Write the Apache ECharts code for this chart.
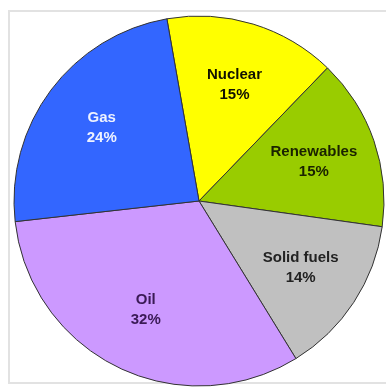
<!DOCTYPE html>
<html><head><meta charset="utf-8">
<script src="https://cdn.jsdelivr.net/npm/echarts@6/dist/echarts.min.js"></script>
<style>html,body{margin:0;padding:0;background:#fff}#c{width:386px;height:387px}</style>
</head><body><div id="c"></div>
<script>
const categories = ['Nuclear', 'Renewables', 'Solid fuels', 'Oil', 'Gas'];
const shares = [15, 15, 14, 32, 24];
const sliceColors = ['#ffff00', '#99cc00', '#c0c0c0', '#cc99ff', '#3366ff'];
const labelColors = ['#111100', '#1a2200', '#222222', '#3a1a55', '#eef2ff'];

const chart = echarts.init(document.getElementById('c'), null, {renderer: 'canvas'});
const center = [199, 201];
const R = 185;
const sliceData = categories.map((n, i) => ({name: n, value: shares[i], itemStyle: {color: sliceColors[i]}}));
const labelData = categories.map((n, i) => ({name: n, value: shares[i], label: {color: labelColors[i]}}));
chart.setOption({
  animation: false,
  backgroundColor: '#ffffff',
  graphic: [{
    type: 'rect', z: -10, silent: true,
    shape: {x: 9, y: 11, width: 400, height: 372},
    style: {fill: '#ffffff', stroke: '#e2e2e2', lineWidth: 2}
  }],
  series: [{
    type: 'pie', center: center, radius: [0, R], startAngle: 100, clockwise: true,
    avoidLabelOverlap: false, silent: true,
    label: {show: false}, labelLine: {show: false},
    itemStyle: {borderColor: '#333333', borderWidth: 1},
    data: sliceData
  }, {
    type: 'pie', center: center, radius: [52, R], startAngle: 100, clockwise: true,
    avoidLabelOverlap: false, silent: true,
    itemStyle: {color: 'rgba(0,0,0,0)', borderWidth: 0},
    labelLine: {show: false},
    label: {
      show: true, position: 'inside',
      formatter: p => p.name + '\n' + p.value + '%',
      fontFamily: 'Liberation Sans, Arial, sans-serif', fontWeight: 'bold', fontSize: 15,
      lineHeight: 20, align: 'center'
    },
    data: labelData
  }]
});
</script></body></html>
